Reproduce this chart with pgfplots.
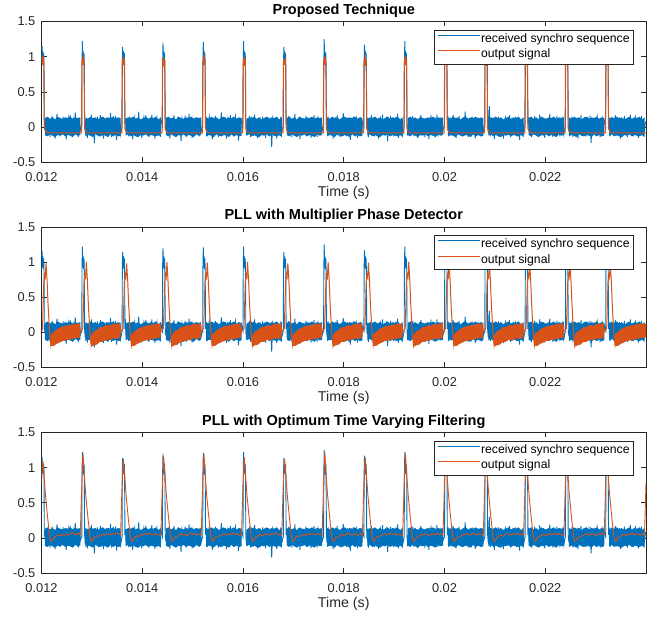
\documentclass[border=0pt]{standalone}
\usepackage{fontspec}
\setmainfont{Liberation Sans}
\usepackage{pgfplots}
\pgfplotsset{compat=1.18}
\usepackage{pgfplotstable}
\usepgfplotslibrary{fillbetween}

\definecolor{mblue}{rgb}{0,0.447,0.741}
\definecolor{morange}{rgb}{0.85,0.325,0.098}
\definecolor{axgray}{rgb}{0.15,0.15,0.15}

% received synchro sequence (x in ms)
\pgfplotstableread[row sep=\\]{
x y\\
12.000 0.90\\ 12.005 1.02\\ 12.012 1.15\\ 12.020 0.92\\ 12.028 1.08\\ 12.036 0.90\\ 12.044 1.05\\ 12.050 0.88\\ 12.056 0.04\\
12.07 0.08\\ 12.09 -0.12\\ 12.11 0.14\\ 12.13 -0.05\\ 12.15 0.11\\ 12.17 -0.14\\ 12.19 0.02\\ 12.21 0.16\\ 12.23 -0.09\\ 12.25 0.12\\ 12.27 -0.16\\ 12.29 0.07\\
12.31 0.19\\ 12.33 -0.08\\ 12.35 0.05\\ 12.37 -0.13\\ 12.39 0.10\\ 12.41 -0.02\\ 12.43 0.15\\ 12.45 -0.11\\ 12.47 0.09\\ 12.49 -0.17\\ 12.51 0.04\\ 12.53 0.13\\
12.55 -0.06\\ 12.57 0.17\\ 12.59 -0.12\\ 12.61 0.03\\ 12.63 0.11\\ 12.65 -0.10\\ 12.67 0.21\\ 12.69 -0.07\\ 12.71 0.06\\ 12.73 -0.14\\ 12.75 0.12\\ 12.77 -0.04\\
12.800 0.02\\ 12.805 0.95\\ 12.812 1.22\\ 12.820 0.92\\ 12.828 1.08\\ 12.836 0.90\\ 12.844 1.05\\ 12.850 0.88\\ 12.856 0.04\\
12.87 -0.09\\ 12.89 0.13\\ 12.91 -0.15\\ 12.93 0.06\\ 12.95 0.10\\ 12.97 -0.11\\ 12.99 0.18\\ 13.01 -0.04\\ 13.03 0.08\\ 13.05 -0.22\\ 13.07 0.12\\ 13.09 -0.07\\
13.11 0.15\\ 13.13 -0.13\\ 13.15 0.03\\ 13.17 0.17\\ 13.19 -0.10\\ 13.21 0.07\\ 13.23 -0.16\\ 13.25 0.11\\ 13.27 -0.02\\ 13.29 0.14\\ 13.31 -0.12\\ 13.33 0.09\\
13.35 -0.08\\ 13.37 0.20\\ 13.39 -0.14\\ 13.41 0.05\\ 13.43 0.12\\ 13.45 -0.09\\ 13.47 0.16\\ 13.49 -0.18\\ 13.51 0.08\\ 13.53 -0.03\\ 13.55 0.13\\ 13.57 -0.10\\
13.600 0.02\\ 13.605 0.95\\ 13.612 1.14\\ 13.620 0.92\\ 13.628 1.08\\ 13.636 0.90\\ 13.644 1.05\\ 13.650 0.88\\ 13.656 0.04\\
13.67 0.12\\ 13.69 -0.07\\ 13.71 0.09\\ 13.73 -0.13\\ 13.75 0.15\\ 13.77 -0.02\\ 13.79 0.11\\ 13.81 -0.17\\ 13.83 0.06\\ 13.85 0.14\\ 13.87 -0.10\\ 13.89 0.08\\
13.91 -0.12\\ 13.93 0.22\\ 13.95 -0.06\\ 13.97 0.10\\ 13.99 -0.15\\ 14.01 0.04\\ 14.03 0.13\\ 14.05 -0.09\\ 14.07 0.17\\ 14.09 -0.11\\ 14.11 0.05\\ 14.13 -0.14\\
14.15 0.12\\ 14.17 -0.05\\ 14.19 0.18\\ 14.21 -0.08\\ 14.23 0.09\\ 14.25 -0.16\\ 14.27 0.07\\ 14.29 0.14\\ 14.31 -0.12\\ 14.33 0.10\\ 14.35 -0.07\\ 14.37 0.11\\
14.400 0.02\\ 14.405 0.95\\ 14.412 1.20\\ 14.420 0.92\\ 14.428 1.08\\ 14.436 0.90\\ 14.444 1.05\\ 14.450 0.88\\ 14.456 0.04\\
14.47 -0.05\\ 14.49 0.14\\ 14.51 -0.12\\ 14.53 0.08\\ 14.55 -0.16\\ 14.57 0.13\\ 14.59 0.03\\ 14.61 -0.09\\ 14.63 0.17\\ 14.65 -0.13\\ 14.67 0.10\\ 14.69 -0.04\\
14.71 0.15\\ 14.73 -0.11\\ 14.75 0.07\\ 14.77 -0.20\\ 14.79 0.12\\ 14.81 0.05\\ 14.83 -0.08\\ 14.85 0.16\\ 14.87 -0.14\\ 14.89 0.09\\ 14.91 -0.03\\ 14.93 0.19\\
14.95 -0.10\\ 14.97 0.06\\ 14.99 -0.15\\ 15.01 0.11\\ 15.03 0.02\\ 15.05 -0.12\\ 15.07 0.14\\ 15.09 -0.07\\ 15.11 0.10\\ 15.13 -0.13\\ 15.15 0.08\\ 15.17 -0.06\\
15.200 0.02\\ 15.205 0.95\\ 15.212 1.21\\ 15.220 0.92\\ 15.228 1.08\\ 15.236 0.90\\ 15.244 1.05\\ 15.250 0.88\\ 15.256 0.04\\
15.27 0.10\\ 15.29 -0.13\\ 15.31 0.07\\ 15.33 0.15\\ 15.35 -0.08\\ 15.37 0.12\\ 15.39 -0.17\\ 15.41 0.05\\ 15.43 -0.10\\ 15.45 0.16\\ 15.47 -0.06\\ 15.49 0.13\\
15.51 -0.14\\ 15.53 0.09\\ 15.55 -0.02\\ 15.57 0.21\\ 15.59 -0.12\\ 15.61 0.08\\ 15.63 -0.09\\ 15.65 0.14\\ 15.67 -0.16\\ 15.69 0.11\\ 15.71 0.04\\ 15.73 -0.11\\
15.75 0.17\\ 15.77 -0.08\\ 15.79 0.12\\ 15.81 -0.13\\ 15.83 0.06\\ 15.85 0.15\\ 15.87 -0.10\\ 15.89 0.09\\ 15.91 -0.19\\ 15.93 0.13\\ 15.95 -0.05\\ 15.97 0.10\\
16.000 0.02\\ 16.005 0.95\\ 16.012 1.22\\ 16.020 0.92\\ 16.028 1.08\\ 16.036 0.90\\ 16.044 1.05\\ 16.050 0.88\\ 16.056 0.04\\
16.07 -0.11\\ 16.09 0.09\\ 16.11 -0.06\\ 16.13 0.16\\ 16.15 -0.14\\ 16.17 0.11\\ 16.19 0.02\\ 16.21 -0.12\\ 16.23 0.18\\ 16.25 -0.07\\ 16.27 0.10\\ 16.29 -0.15\\
16.31 0.13\\ 16.33 -0.03\\ 16.35 0.08\\ 16.37 -0.11\\ 16.39 0.15\\ 16.41 -0.09\\ 16.43 0.06\\ 16.45 -0.15\\ 16.47 0.12\\ 16.49 -0.04\\ 16.51 0.14\\ 16.53 -0.10\\
16.55 0.09\\ 16.57 -0.28\\ 16.59 0.13\\ 16.61 0.07\\ 16.63 -0.08\\ 16.65 0.13\\ 16.67 -0.16\\ 16.69 0.10\\ 16.71 0.04\\ 16.73 -0.12\\ 16.75 0.15\\ 16.77 -0.07\\
16.800 0.02\\ 16.805 0.95\\ 16.812 1.14\\ 16.820 0.92\\ 16.828 1.08\\ 16.836 0.90\\ 16.844 1.05\\ 16.850 0.88\\ 16.856 0.04\\
16.87 0.13\\ 16.89 -0.10\\ 16.91 0.16\\ 16.93 -0.06\\ 16.95 0.08\\ 16.97 -0.14\\ 16.99 0.11\\ 17.01 -0.03\\ 17.03 0.19\\ 17.05 -0.12\\ 17.07 0.07\\ 17.09 -0.09\\
17.11 0.14\\ 17.13 -0.17\\ 17.15 0.10\\ 17.17 0.05\\ 17.19 -0.11\\ 17.21 0.13\\ 17.23 -0.07\\ 17.25 0.16\\ 17.27 -0.13\\ 17.29 0.08\\ 17.31 -0.02\\ 17.33 0.12\\
17.35 -0.15\\ 17.37 0.10\\ 17.39 -0.06\\ 17.41 0.17\\ 17.43 -0.11\\ 17.45 0.09\\ 17.47 -0.14\\ 17.49 0.12\\ 17.51 0.03\\ 17.53 -0.09\\ 17.55 0.11\\ 17.57 -0.05\\
17.600 0.02\\ 17.605 0.95\\ 17.612 1.25\\ 17.620 0.92\\ 17.628 1.08\\ 17.636 0.90\\ 17.644 1.05\\ 17.650 0.88\\ 17.656 0.04\\
17.67 -0.07\\ 17.69 0.15\\ 17.71 -0.11\\ 17.73 0.10\\ 17.75 -0.04\\ 17.77 0.13\\ 17.79 -0.16\\ 17.81 0.08\\ 17.83 0.12\\ 17.85 -0.09\\ 17.87 0.17\\ 17.89 -0.12\\
17.91 0.06\\ 17.93 -0.14\\ 17.95 0.11\\ 17.97 -0.05\\ 17.99 0.20\\ 18.01 -0.10\\ 18.03 0.09\\ 18.05 -0.13\\ 18.07 0.14\\ 18.09 -0.07\\ 18.11 0.05\\ 18.13 -0.18\\
18.15 0.12\\ 18.17 -0.08\\ 18.19 0.15\\ 18.21 -0.11\\ 18.23 0.07\\ 18.25 0.13\\ 18.27 -0.15\\ 18.29 0.10\\ 18.31 -0.06\\ 18.33 0.14\\ 18.35 -0.09\\ 18.37 0.08\\
18.400 0.02\\ 18.405 0.95\\ 18.412 1.17\\ 18.420 0.92\\ 18.428 1.08\\ 18.436 0.90\\ 18.444 1.05\\ 18.450 0.88\\ 18.456 0.04\\
18.47 0.09\\ 18.49 -0.14\\ 18.51 0.12\\ 18.53 -0.07\\ 18.55 0.17\\ 18.57 -0.10\\ 18.59 0.05\\ 18.61 -0.13\\ 18.63 0.14\\ 18.65 -0.04\\ 18.67 0.10\\ 18.69 -0.16\\
18.71 0.08\\ 18.73 0.13\\ 18.75 -0.12\\ 18.77 0.18\\ 18.79 -0.06\\ 18.81 0.11\\ 18.83 -0.09\\ 18.85 0.15\\ 18.87 -0.20\\ 18.89 0.07\\ 18.91 -0.02\\ 18.93 0.16\\
18.95 -0.11\\ 18.97 0.10\\ 18.99 -0.13\\ 19.01 0.06\\ 19.03 0.12\\ 19.05 -0.08\\ 19.07 0.19\\ 19.09 -0.15\\ 19.11 0.09\\ 19.13 -0.05\\ 19.15 0.13\\ 19.17 -0.10\\
19.200 0.02\\ 19.205 0.95\\ 19.212 1.22\\ 19.220 0.92\\ 19.228 1.08\\ 19.236 0.90\\ 19.244 1.05\\ 19.250 0.88\\ 19.256 0.04\\
19.27 -0.12\\ 19.29 0.11\\ 19.31 -0.05\\ 19.33 0.14\\ 19.35 -0.09\\ 19.37 0.16\\ 19.39 -0.13\\ 19.41 0.07\\ 19.43 -0.02\\ 19.45 0.12\\ 19.47 -0.15\\ 19.49 0.10\\
19.51 -0.07\\ 19.53 0.17\\ 19.55 -0.11\\ 19.57 0.08\\ 19.59 0.03\\ 19.61 -0.14\\ 19.63 0.13\\ 19.65 -0.06\\ 19.67 0.11\\ 19.69 -0.17\\ 19.71 0.09\\ 19.73 0.15\\
19.75 -0.10\\ 19.77 0.06\\ 19.79 -0.12\\ 19.81 0.14\\ 19.83 -0.08\\ 19.85 0.18\\ 19.87 -0.13\\ 19.89 0.05\\ 19.91 0.11\\ 19.93 -0.09\\ 19.95 0.12\\ 19.97 -0.04\\
20.000 0.02\\ 20.005 0.95\\ 20.012 1.15\\ 20.020 0.92\\ 20.028 1.08\\ 20.036 0.90\\ 20.044 1.05\\ 20.050 0.88\\ 20.056 0.04\\
20.07 0.11\\ 20.09 -0.08\\ 20.11 0.14\\ 20.13 -0.12\\ 20.15 0.06\\ 20.17 0.17\\ 20.19 -0.10\\ 20.21 0.09\\ 20.23 -0.15\\ 20.25 0.12\\ 20.27 -0.04\\ 20.29 0.16\\
20.31 -0.11\\ 20.33 0.07\\ 20.35 -0.13\\ 20.37 0.10\\ 20.39 -0.06\\ 20.41 0.22\\ 20.43 -0.09\\ 20.45 0.13\\ 20.47 -0.14\\ 20.49 0.08\\ 20.51 0.02\\ 20.53 -0.12\\
20.55 0.15\\ 20.57 -0.07\\ 20.59 0.11\\ 20.61 -0.16\\ 20.63 0.09\\ 20.65 -0.05\\ 20.67 0.14\\ 20.69 -0.11\\ 20.71 0.07\\ 20.73 -0.13\\ 20.75 0.10\\ 20.77 -0.06\\
20.800 0.02\\ 20.805 0.95\\ 20.812 1.20\\ 20.820 0.92\\ 20.828 1.08\\ 20.836 0.90\\ 20.844 1.05\\ 20.850 0.88\\ 20.856 0.04\\
20.87 -0.08\\ 20.89 0.30\\ 20.91 -0.13\\ 20.93 0.09\\ 20.95 -0.05\\ 20.97 0.12\\ 20.99 -0.17\\ 21.01 0.11\\ 21.03 0.04\\ 21.05 -0.10\\ 21.07 0.15\\ 21.09 -0.08\\
21.11 0.13\\ 21.13 -0.12\\ 21.15 0.06\\ 21.17 -0.16\\ 21.19 0.10\\ 21.21 0.14\\ 21.23 -0.07\\ 21.25 0.09\\ 21.27 -0.11\\ 21.29 0.17\\ 21.31 -0.14\\ 21.33 0.08\\
21.35 -0.03\\ 21.37 0.12\\ 21.39 -0.09\\ 21.41 0.15\\ 21.43 -0.13\\ 21.45 0.06\\ 21.47 0.11\\ 21.49 -0.18\\ 21.51 0.10\\ 21.53 -0.06\\ 21.55 0.13\\ 21.57 -0.09\\
21.600 0.02\\ 21.605 0.95\\ 21.612 1.18\\ 21.620 0.92\\ 21.628 1.08\\ 21.636 0.90\\ 21.644 1.05\\ 21.650 0.88\\ 21.656 0.04\\
21.67 0.14\\ 21.69 -0.11\\ 21.71 0.08\\ 21.73 -0.14\\ 21.75 0.12\\ 21.77 -0.06\\ 21.79 0.16\\ 21.81 -0.09\\ 21.83 0.10\\ 21.85 -0.13\\ 21.87 0.05\\ 21.89 0.18\\
21.91 -0.12\\ 21.93 0.07\\ 21.95 -0.10\\ 21.97 0.14\\ 21.99 -0.15\\ 22.01 0.11\\ 22.03 -0.04\\ 22.05 0.13\\ 22.07 -0.08\\ 22.09 0.19\\ 22.11 -0.11\\ 22.13 0.06\\
22.15 -0.14\\ 22.17 0.10\\ 22.19 0.03\\ 22.21 -0.12\\ 22.23 0.16\\ 22.25 -0.07\\ 22.27 0.09\\ 22.29 -0.13\\ 22.31 0.12\\ 22.33 -0.05\\ 22.35 0.15\\ 22.37 -0.10\\
22.400 0.02\\ 22.405 0.95\\ 22.412 1.16\\ 22.420 0.92\\ 22.428 1.08\\ 22.436 0.90\\ 22.444 1.05\\ 22.450 0.88\\ 22.456 0.04\\
22.47 -0.06\\ 22.49 0.12\\ 22.51 -0.10\\ 22.53 0.15\\ 22.55 -0.14\\ 22.57 0.08\\ 22.59 0.11\\ 22.61 -0.07\\ 22.63 0.13\\ 22.65 -0.16\\ 22.67 0.09\\ 22.69 -0.03\\
22.71 0.17\\ 22.73 -0.11\\ 22.75 0.10\\ 22.77 -0.08\\ 22.79 0.14\\ 22.81 -0.13\\ 22.83 0.06\\ 22.85 0.12\\ 22.87 -0.10\\ 22.89 0.16\\ 22.91 -0.22\\ 22.93 0.09\\
22.95 -0.05\\ 22.97 0.13\\ 22.99 -0.12\\ 23.01 0.08\\ 23.03 0.15\\ 23.05 -0.09\\ 23.07 0.11\\ 23.09 -0.14\\ 23.11 0.07\\ 23.13 0.13\\ 23.15 -0.06\\ 23.17 0.10\\
23.200 0.02\\ 23.205 0.95\\ 23.212 1.20\\ 23.220 0.92\\ 23.228 1.08\\ 23.236 0.90\\ 23.244 1.05\\ 23.250 0.88\\ 23.256 0.04\\
23.27 0.10\\ 23.29 -0.13\\ 23.31 0.15\\ 23.33 -0.08\\ 23.35 0.12\\ 23.37 -0.05\\ 23.39 0.17\\ 23.41 -0.12\\ 23.43 0.07\\ 23.45 -0.10\\ 23.47 0.14\\ 23.49 -0.16\\
23.51 0.09\\ 23.53 0.04\\ 23.55 -0.11\\ 23.57 0.16\\ 23.59 -0.07\\ 23.61 0.12\\ 23.63 -0.14\\ 23.65 0.10\\ 23.67 -0.06\\ 23.69 0.18\\ 23.71 -0.09\\ 23.73 0.11\\
23.75 -0.13\\ 23.77 0.08\\ 23.79 0.14\\ 23.81 -0.10\\ 23.83 0.06\\ 23.85 -0.15\\ 23.87 0.12\\ 23.89 -0.07\\ 23.91 0.16\\ 23.93 -0.11\\ 23.95 0.09\\ 23.97 -0.04\\
23.99 0.08\\
}\bluedata

% dense core of the received noise (upper and lower envelope)
\pgfplotstableread[row sep=\\]{
x up lo\\
12.065 0 0\\ 12.07 0.13 -0.11\\ 12.12 0.15 -0.13\\ 12.17 0.12 -0.10\\ 12.22 0.14 -0.12\\ 12.27 0.11 -0.14\\ 12.32 0.15 -0.11\\ 12.37 0.13 -0.12\\ 12.42 0.12 -0.10\\ 12.47 0.14 -0.13\\ 12.52 0.13 -0.11\\ 12.57 0.15 -0.12\\ 12.62 0.12 -0.14\\ 12.67 0.14 -0.10\\ 12.72 0.13 -0.12\\ 12.77 0.14 -0.11\\ 12.775 0 0\\
12.865 0 0\\ 12.87 0.14 -0.13\\ 12.92 0.12 -0.11\\ 12.97 0.15 -0.12\\ 13.02 0.13 -0.14\\ 13.07 0.14 -0.10\\ 13.12 0.11 -0.12\\ 13.17 0.14 -0.13\\ 13.22 0.15 -0.11\\ 13.27 0.12 -0.12\\ 13.32 0.14 -0.14\\ 13.37 0.13 -0.10\\ 13.42 0.15 -0.13\\ 13.47 0.12 -0.11\\ 13.52 0.14 -0.13\\ 13.57 0.13 -0.12\\ 13.575 0 0\\
13.665 0 0\\ 13.67 0.12 -0.12\\ 13.72 0.14 -0.10\\ 13.77 0.13 -0.13\\ 13.82 0.15 -0.11\\ 13.87 0.12 -0.13\\ 13.92 0.14 -0.14\\ 13.97 0.11 -0.11\\ 14.02 0.13 -0.12\\ 14.07 0.15 -0.10\\ 14.12 0.12 -0.13\\ 14.17 0.14 -0.11\\ 14.22 0.13 -0.12\\ 14.27 0.15 -0.13\\ 14.32 0.11 -0.11\\ 14.37 0.14 -0.14\\ 14.375 0 0\\
14.465 0 0\\ 14.47 0.13 -0.11\\ 14.52 0.15 -0.13\\ 14.57 0.12 -0.10\\ 14.62 0.14 -0.12\\ 14.67 0.11 -0.14\\ 14.72 0.15 -0.11\\ 14.77 0.13 -0.12\\ 14.82 0.12 -0.10\\ 14.87 0.14 -0.13\\ 14.92 0.13 -0.11\\ 14.97 0.15 -0.12\\ 15.02 0.12 -0.14\\ 15.07 0.14 -0.10\\ 15.12 0.13 -0.12\\ 15.17 0.14 -0.11\\ 15.175 0 0\\
15.265 0 0\\ 15.27 0.14 -0.13\\ 15.32 0.12 -0.11\\ 15.37 0.15 -0.12\\ 15.42 0.13 -0.14\\ 15.47 0.14 -0.10\\ 15.52 0.11 -0.12\\ 15.57 0.14 -0.13\\ 15.62 0.15 -0.11\\ 15.67 0.12 -0.12\\ 15.72 0.14 -0.14\\ 15.77 0.13 -0.10\\ 15.82 0.15 -0.13\\ 15.87 0.12 -0.11\\ 15.92 0.14 -0.13\\ 15.97 0.13 -0.12\\ 15.975 0 0\\
16.065 0 0\\ 16.07 0.12 -0.12\\ 16.12 0.14 -0.10\\ 16.17 0.13 -0.13\\ 16.22 0.15 -0.11\\ 16.27 0.12 -0.13\\ 16.32 0.14 -0.14\\ 16.37 0.11 -0.11\\ 16.42 0.13 -0.12\\ 16.47 0.15 -0.10\\ 16.52 0.12 -0.13\\ 16.57 0.14 -0.11\\ 16.62 0.13 -0.12\\ 16.67 0.15 -0.13\\ 16.72 0.11 -0.11\\ 16.77 0.14 -0.14\\ 16.775 0 0\\
16.865 0 0\\ 16.87 0.13 -0.11\\ 16.92 0.15 -0.13\\ 16.97 0.12 -0.10\\ 17.02 0.14 -0.12\\ 17.07 0.11 -0.14\\ 17.12 0.15 -0.11\\ 17.17 0.13 -0.12\\ 17.22 0.12 -0.10\\ 17.27 0.14 -0.13\\ 17.32 0.13 -0.11\\ 17.37 0.15 -0.12\\ 17.42 0.12 -0.14\\ 17.47 0.14 -0.10\\ 17.52 0.13 -0.12\\ 17.57 0.14 -0.11\\ 17.575 0 0\\
17.665 0 0\\ 17.67 0.14 -0.13\\ 17.72 0.12 -0.11\\ 17.77 0.15 -0.12\\ 17.82 0.13 -0.14\\ 17.87 0.14 -0.10\\ 17.92 0.11 -0.12\\ 17.97 0.14 -0.13\\ 18.02 0.15 -0.11\\ 18.07 0.12 -0.12\\ 18.12 0.14 -0.14\\ 18.17 0.13 -0.10\\ 18.22 0.15 -0.13\\ 18.27 0.12 -0.11\\ 18.32 0.14 -0.13\\ 18.37 0.13 -0.12\\ 18.375 0 0\\
18.465 0 0\\ 18.47 0.12 -0.12\\ 18.52 0.14 -0.10\\ 18.57 0.13 -0.13\\ 18.62 0.15 -0.11\\ 18.67 0.12 -0.13\\ 18.72 0.14 -0.14\\ 18.77 0.11 -0.11\\ 18.82 0.13 -0.12\\ 18.87 0.15 -0.10\\ 18.92 0.12 -0.13\\ 18.97 0.14 -0.11\\ 19.02 0.13 -0.12\\ 19.07 0.15 -0.13\\ 19.12 0.11 -0.11\\ 19.17 0.14 -0.14\\ 19.175 0 0\\
19.265 0 0\\ 19.27 0.13 -0.11\\ 19.32 0.15 -0.13\\ 19.37 0.12 -0.10\\ 19.42 0.14 -0.12\\ 19.47 0.11 -0.14\\ 19.52 0.15 -0.11\\ 19.57 0.13 -0.12\\ 19.62 0.12 -0.10\\ 19.67 0.14 -0.13\\ 19.72 0.13 -0.11\\ 19.77 0.15 -0.12\\ 19.82 0.12 -0.14\\ 19.87 0.14 -0.10\\ 19.92 0.13 -0.12\\ 19.97 0.14 -0.11\\ 19.975 0 0\\
20.065 0 0\\ 20.07 0.14 -0.13\\ 20.12 0.12 -0.11\\ 20.17 0.15 -0.12\\ 20.22 0.13 -0.14\\ 20.27 0.14 -0.10\\ 20.32 0.11 -0.12\\ 20.37 0.14 -0.13\\ 20.42 0.15 -0.11\\ 20.47 0.12 -0.12\\ 20.52 0.14 -0.14\\ 20.57 0.13 -0.10\\ 20.62 0.15 -0.13\\ 20.67 0.12 -0.11\\ 20.72 0.14 -0.13\\ 20.77 0.13 -0.12\\ 20.775 0 0\\
20.865 0 0\\ 20.87 0.12 -0.12\\ 20.92 0.14 -0.10\\ 20.97 0.13 -0.13\\ 21.02 0.15 -0.11\\ 21.07 0.12 -0.13\\ 21.12 0.14 -0.14\\ 21.17 0.11 -0.11\\ 21.22 0.13 -0.12\\ 21.27 0.15 -0.10\\ 21.32 0.12 -0.13\\ 21.37 0.14 -0.11\\ 21.42 0.13 -0.12\\ 21.47 0.15 -0.13\\ 21.52 0.11 -0.11\\ 21.57 0.14 -0.14\\ 21.575 0 0\\
21.665 0 0\\ 21.67 0.13 -0.11\\ 21.72 0.15 -0.13\\ 21.77 0.12 -0.10\\ 21.82 0.14 -0.12\\ 21.87 0.11 -0.14\\ 21.92 0.15 -0.11\\ 21.97 0.13 -0.12\\ 22.02 0.12 -0.10\\ 22.07 0.14 -0.13\\ 22.12 0.13 -0.11\\ 22.17 0.15 -0.12\\ 22.22 0.12 -0.14\\ 22.27 0.14 -0.10\\ 22.32 0.13 -0.12\\ 22.37 0.14 -0.11\\ 22.375 0 0\\
22.465 0 0\\ 22.47 0.14 -0.13\\ 22.52 0.12 -0.11\\ 22.57 0.15 -0.12\\ 22.62 0.13 -0.14\\ 22.67 0.14 -0.10\\ 22.72 0.11 -0.12\\ 22.77 0.14 -0.13\\ 22.82 0.15 -0.11\\ 22.87 0.12 -0.12\\ 22.92 0.14 -0.14\\ 22.97 0.13 -0.10\\ 23.02 0.15 -0.13\\ 23.07 0.12 -0.11\\ 23.12 0.14 -0.13\\ 23.17 0.13 -0.12\\ 23.175 0 0\\
23.265 0 0\\ 23.27 0.12 -0.12\\ 23.32 0.14 -0.10\\ 23.37 0.13 -0.13\\ 23.42 0.15 -0.11\\ 23.47 0.12 -0.13\\ 23.52 0.14 -0.14\\ 23.57 0.11 -0.11\\ 23.62 0.13 -0.12\\ 23.67 0.15 -0.10\\ 23.72 0.12 -0.13\\ 23.77 0.14 -0.11\\ 23.82 0.13 -0.12\\ 23.87 0.15 -0.13\\ 23.92 0.11 -0.11\\ 23.97 0.14 -0.14\\ 23.975 0 0\\
}\bluecore

% output of the proposed technique
\pgfplotstableread[row sep=\\]{
x y\\
12.000 0.92\\ 12.012 0.98\\ 12.022 0.88\\ 12.032 1.00\\ 12.045 0.93\\ 12.056 -0.02\\ 12.080 -0.06\\ 12.120 -0.08\\
12.794 -0.08\\ 12.802 0.92\\ 12.812 0.98\\ 12.822 0.88\\ 12.832 0.99\\ 12.845 0.93\\ 12.856 -0.02\\ 12.880 -0.06\\ 12.920 -0.08\\
13.594 -0.08\\ 13.602 0.90\\ 13.612 0.97\\ 13.622 0.88\\ 13.632 1.00\\ 13.645 0.92\\ 13.656 -0.02\\ 13.680 -0.06\\ 13.720 -0.08\\
14.394 -0.08\\ 14.402 0.92\\ 14.412 0.98\\ 14.422 0.86\\ 14.432 0.97\\ 14.445 0.93\\ 14.456 -0.02\\ 14.480 -0.06\\ 14.520 -0.08\\
15.194 -0.08\\ 15.202 0.91\\ 15.212 0.99\\ 15.222 0.88\\ 15.232 1.00\\ 15.245 0.94\\ 15.256 -0.02\\ 15.280 -0.06\\ 15.320 -0.08\\
15.994 -0.08\\ 16.002 0.92\\ 16.012 0.98\\ 16.022 0.87\\ 16.032 1.00\\ 16.045 0.93\\ 16.056 -0.02\\ 16.080 -0.06\\ 16.120 -0.08\\
16.794 -0.08\\ 16.802 0.90\\ 16.812 0.97\\ 16.822 0.88\\ 16.832 0.99\\ 16.845 0.92\\ 16.856 -0.02\\ 16.880 -0.06\\ 16.920 -0.08\\
17.594 -0.08\\ 17.602 0.92\\ 17.612 0.99\\ 17.622 0.88\\ 17.632 1.00\\ 17.645 0.93\\ 17.656 -0.02\\ 17.680 -0.06\\ 17.720 -0.08\\
18.394 -0.08\\ 18.402 0.91\\ 18.412 0.98\\ 18.422 0.87\\ 18.432 0.99\\ 18.445 0.93\\ 18.456 -0.02\\ 18.480 -0.06\\ 18.520 -0.08\\
19.194 -0.08\\ 19.202 0.92\\ 19.212 0.97\\ 19.222 0.88\\ 19.232 1.00\\ 19.245 0.92\\ 19.256 -0.02\\ 19.280 -0.06\\ 19.320 -0.08\\
19.994 -0.08\\ 20.002 0.92\\ 20.012 0.98\\ 20.022 0.88\\ 20.032 0.99\\ 20.045 0.93\\ 20.056 -0.02\\ 20.080 -0.06\\ 20.120 -0.08\\
20.794 -0.08\\ 20.802 0.91\\ 20.812 0.98\\ 20.822 0.87\\ 20.832 1.00\\ 20.845 0.93\\ 20.856 -0.02\\ 20.880 -0.06\\ 20.920 -0.08\\
21.594 -0.08\\ 21.602 0.92\\ 21.612 0.99\\ 21.622 0.88\\ 21.632 1.00\\ 21.645 0.92\\ 21.656 -0.02\\ 21.680 -0.06\\ 21.720 -0.08\\
22.394 -0.08\\ 22.402 0.90\\ 22.412 0.97\\ 22.422 0.88\\ 22.432 0.99\\ 22.445 0.93\\ 22.456 -0.02\\ 22.480 -0.06\\ 22.520 -0.08\\
23.194 -0.08\\ 23.202 0.92\\ 23.212 0.98\\ 23.222 0.88\\ 23.232 1.00\\ 23.245 0.93\\ 23.256 -0.02\\ 23.280 -0.06\\ 23.320 -0.08\\
24.000 -0.08\\
}\orangeA

% PLL with multiplier phase detector: pulse line
\pgfplotstableread[row sep=\\]{
x y\\
12.000 0.00\\ 12.020 0.05\\ 12.045 0.70\\ 12.060 0.82\\ 12.075 0.78\\ 12.090 0.98\\ 12.110 0.75\\ 12.130 0.40\\ 12.160 0.00\\ 12.185 -0.19\\ 12.200 -0.12\\
12.790 0.02\\ 12.820 0.05\\ 12.845 0.70\\ 12.860 0.82\\ 12.875 0.78\\ 12.890 1.00\\ 12.910 0.75\\ 12.930 0.40\\ 12.960 0.00\\ 12.985 -0.19\\ 13.000 -0.12\\
13.590 0.02\\ 13.620 0.05\\ 13.645 0.70\\ 13.660 0.82\\ 13.675 0.78\\ 13.690 0.98\\ 13.710 0.75\\ 13.730 0.40\\ 13.760 0.00\\ 13.785 -0.19\\ 13.800 -0.12\\
14.390 0.02\\ 14.420 0.05\\ 14.445 0.70\\ 14.460 0.82\\ 14.475 0.78\\ 14.490 1.00\\ 14.510 0.75\\ 14.530 0.40\\ 14.560 0.00\\ 14.585 -0.19\\ 14.600 -0.12\\
15.190 0.02\\ 15.220 0.05\\ 15.245 0.70\\ 15.260 0.82\\ 15.275 0.78\\ 15.290 0.99\\ 15.310 0.75\\ 15.330 0.40\\ 15.360 0.00\\ 15.385 -0.19\\ 15.400 -0.12\\
15.990 0.02\\ 16.020 0.05\\ 16.045 0.70\\ 16.060 0.82\\ 16.075 0.78\\ 16.090 1.00\\ 16.110 0.75\\ 16.130 0.40\\ 16.160 0.00\\ 16.185 -0.19\\ 16.200 -0.12\\
16.790 0.02\\ 16.820 0.05\\ 16.845 0.70\\ 16.860 0.82\\ 16.875 0.78\\ 16.890 0.98\\ 16.910 0.75\\ 16.930 0.40\\ 16.960 0.00\\ 16.985 -0.19\\ 17.000 -0.12\\
17.590 0.02\\ 17.620 0.05\\ 17.645 0.70\\ 17.660 0.82\\ 17.675 0.78\\ 17.690 1.00\\ 17.710 0.75\\ 17.730 0.40\\ 17.760 0.00\\ 17.785 -0.19\\ 17.800 -0.12\\
18.390 0.02\\ 18.420 0.05\\ 18.445 0.70\\ 18.460 0.82\\ 18.475 0.78\\ 18.490 0.99\\ 18.510 0.75\\ 18.530 0.40\\ 18.560 0.00\\ 18.585 -0.19\\ 18.600 -0.12\\
19.190 0.02\\ 19.220 0.05\\ 19.245 0.70\\ 19.260 0.82\\ 19.275 0.78\\ 19.290 1.00\\ 19.310 0.75\\ 19.330 0.40\\ 19.360 0.00\\ 19.385 -0.19\\ 19.400 -0.12\\
19.990 0.02\\ 20.020 0.05\\ 20.045 0.70\\ 20.060 0.82\\ 20.075 0.78\\ 20.090 0.98\\ 20.110 0.75\\ 20.130 0.40\\ 20.160 0.00\\ 20.185 -0.19\\ 20.200 -0.12\\
20.790 0.02\\ 20.820 0.05\\ 20.845 0.70\\ 20.860 0.82\\ 20.875 0.78\\ 20.890 1.00\\ 20.910 0.75\\ 20.930 0.40\\ 20.960 0.00\\ 20.985 -0.19\\ 21.000 -0.12\\
21.590 0.02\\ 21.620 0.05\\ 21.645 0.70\\ 21.660 0.82\\ 21.675 0.78\\ 21.690 0.99\\ 21.710 0.75\\ 21.730 0.40\\ 21.760 0.00\\ 21.785 -0.19\\ 21.800 -0.12\\
22.390 0.02\\ 22.420 0.05\\ 22.445 0.70\\ 22.460 0.82\\ 22.475 0.78\\ 22.490 1.00\\ 22.510 0.75\\ 22.530 0.40\\ 22.560 0.00\\ 22.585 -0.19\\ 22.600 -0.12\\
23.190 0.02\\ 23.220 0.05\\ 23.245 0.70\\ 23.260 0.82\\ 23.275 0.78\\ 23.290 0.98\\ 23.310 0.75\\ 23.330 0.40\\ 23.360 0.00\\ 23.385 -0.19\\ 23.400 -0.12\\
24.000 0.02\\
}\orangeB

% PLL with multiplier phase detector: envelope of the oscillating band
\pgfplotstableread[row sep=\\]{
x up lo\\
12.17 -0.10 -0.10\\ 12.19 -0.03 -0.20\\ 12.24 0.00 -0.20\\ 12.30 0.04 -0.17\\ 12.36 0.06 -0.15\\ 12.42 0.08 -0.13\\ 12.48 0.09 -0.12\\ 12.55 0.10 -0.11\\ 12.62 0.11 -0.10\\ 12.69 0.12 -0.09\\ 12.76 0.12 -0.08\\ 12.78 0.02 0.02\\
12.97 -0.10 -0.10\\ 12.99 -0.04 -0.21\\ 13.04 0.01 -0.19\\ 13.10 0.03 -0.18\\ 13.16 0.07 -0.14\\ 13.22 0.07 -0.14\\ 13.28 0.10 -0.11\\ 13.35 0.09 -0.12\\ 13.42 0.12 -0.09\\ 13.49 0.11 -0.10\\ 13.56 0.13 -0.08\\ 13.58 0.02 0.02\\
13.77 -0.10 -0.10\\ 13.79 -0.03 -0.20\\ 13.84 0.00 -0.20\\ 13.90 0.04 -0.17\\ 13.96 0.06 -0.15\\ 14.02 0.08 -0.13\\ 14.08 0.09 -0.12\\ 14.15 0.10 -0.11\\ 14.22 0.11 -0.10\\ 14.29 0.12 -0.09\\ 14.36 0.12 -0.08\\ 14.38 0.02 0.02\\
14.57 -0.10 -0.10\\ 14.59 -0.04 -0.21\\ 14.64 0.01 -0.19\\ 14.70 0.03 -0.18\\ 14.76 0.07 -0.14\\ 14.82 0.07 -0.14\\ 14.88 0.10 -0.11\\ 14.95 0.09 -0.12\\ 15.02 0.12 -0.09\\ 15.09 0.11 -0.10\\ 15.16 0.13 -0.08\\ 15.18 0.02 0.02\\
15.37 -0.10 -0.10\\ 15.39 -0.03 -0.20\\ 15.44 0.00 -0.20\\ 15.50 0.04 -0.17\\ 15.56 0.06 -0.15\\ 15.62 0.08 -0.13\\ 15.68 0.09 -0.12\\ 15.75 0.10 -0.11\\ 15.82 0.11 -0.10\\ 15.89 0.12 -0.09\\ 15.96 0.12 -0.08\\ 15.98 0.02 0.02\\
16.17 -0.10 -0.10\\ 16.19 -0.04 -0.21\\ 16.24 0.01 -0.19\\ 16.30 0.03 -0.18\\ 16.36 0.07 -0.14\\ 16.42 0.07 -0.14\\ 16.48 0.10 -0.11\\ 16.55 0.09 -0.12\\ 16.62 0.12 -0.09\\ 16.69 0.11 -0.10\\ 16.76 0.13 -0.08\\ 16.78 0.02 0.02\\
16.97 -0.10 -0.10\\ 16.99 -0.03 -0.20\\ 17.04 0.00 -0.20\\ 17.10 0.04 -0.17\\ 17.16 0.06 -0.15\\ 17.22 0.08 -0.13\\ 17.28 0.09 -0.12\\ 17.35 0.10 -0.11\\ 17.42 0.11 -0.10\\ 17.49 0.12 -0.09\\ 17.56 0.12 -0.08\\ 17.58 0.02 0.02\\
17.77 -0.10 -0.10\\ 17.79 -0.04 -0.21\\ 17.84 0.01 -0.19\\ 17.90 0.03 -0.18\\ 17.96 0.07 -0.14\\ 18.02 0.07 -0.14\\ 18.08 0.10 -0.11\\ 18.15 0.09 -0.12\\ 18.22 0.12 -0.09\\ 18.29 0.11 -0.10\\ 18.36 0.13 -0.08\\ 18.38 0.02 0.02\\
18.57 -0.10 -0.10\\ 18.59 -0.03 -0.20\\ 18.64 0.00 -0.20\\ 18.70 0.04 -0.17\\ 18.76 0.06 -0.15\\ 18.82 0.08 -0.13\\ 18.88 0.09 -0.12\\ 18.95 0.10 -0.11\\ 19.02 0.11 -0.10\\ 19.09 0.12 -0.09\\ 19.16 0.12 -0.08\\ 19.18 0.02 0.02\\
19.37 -0.10 -0.10\\ 19.39 -0.04 -0.21\\ 19.44 0.01 -0.19\\ 19.50 0.03 -0.18\\ 19.56 0.07 -0.14\\ 19.62 0.07 -0.14\\ 19.68 0.10 -0.11\\ 19.75 0.09 -0.12\\ 19.82 0.12 -0.09\\ 19.89 0.11 -0.10\\ 19.96 0.13 -0.08\\ 19.98 0.02 0.02\\
20.17 -0.10 -0.10\\ 20.19 -0.03 -0.20\\ 20.24 0.00 -0.20\\ 20.30 0.04 -0.17\\ 20.36 0.06 -0.15\\ 20.42 0.08 -0.13\\ 20.48 0.09 -0.12\\ 20.55 0.10 -0.11\\ 20.62 0.11 -0.10\\ 20.69 0.12 -0.09\\ 20.76 0.12 -0.08\\ 20.78 0.02 0.02\\
20.97 -0.10 -0.10\\ 20.99 -0.04 -0.21\\ 21.04 0.01 -0.19\\ 21.10 0.03 -0.18\\ 21.16 0.07 -0.14\\ 21.22 0.07 -0.14\\ 21.28 0.10 -0.11\\ 21.35 0.09 -0.12\\ 21.42 0.12 -0.09\\ 21.49 0.11 -0.10\\ 21.56 0.13 -0.08\\ 21.58 0.02 0.02\\
21.77 -0.10 -0.10\\ 21.79 -0.03 -0.20\\ 21.84 0.00 -0.20\\ 21.90 0.04 -0.17\\ 21.96 0.06 -0.15\\ 22.02 0.08 -0.13\\ 22.08 0.09 -0.12\\ 22.15 0.10 -0.11\\ 22.22 0.11 -0.10\\ 22.29 0.12 -0.09\\ 22.36 0.12 -0.08\\ 22.38 0.02 0.02\\
22.57 -0.10 -0.10\\ 22.59 -0.04 -0.21\\ 22.64 0.01 -0.19\\ 22.70 0.03 -0.18\\ 22.76 0.07 -0.14\\ 22.82 0.07 -0.14\\ 22.88 0.10 -0.11\\ 22.95 0.09 -0.12\\ 23.02 0.12 -0.09\\ 23.09 0.11 -0.10\\ 23.16 0.13 -0.08\\ 23.18 0.02 0.02\\
23.37 -0.10 -0.10\\ 23.39 -0.03 -0.20\\ 23.44 0.00 -0.20\\ 23.50 0.04 -0.17\\ 23.56 0.06 -0.15\\ 23.62 0.08 -0.13\\ 23.68 0.09 -0.12\\ 23.75 0.10 -0.11\\ 23.82 0.11 -0.10\\ 23.89 0.12 -0.09\\ 23.96 0.12 -0.08\\ 24.00 0.12 -0.08\\
}\bandB

% PLL with optimum time varying filtering
\pgfplotstableread[row sep=\\]{
x y\\
12.000 0.78\\ 12.025 1.10\\ 12.045 0.95\\ 12.080 0.60\\ 12.120 0.30\\ 12.160 0.03\\ 12.185 -0.05\\ 12.210 -0.04\\ 12.250 0.01\\
12.29 0.02\\ 12.33 0.04\\ 12.37 0.03\\ 12.41 0.05\\ 12.45 0.03\\ 12.49 0.05\\ 12.53 0.04\\ 12.57 0.06\\ 12.61 0.08\\ 12.65 0.05\\ 12.69 0.04\\ 12.73 0.07\\ 12.77 0.04\\
12.800 0.78\\ 12.825 1.20\\ 12.845 0.95\\ 12.880 0.60\\ 12.920 0.30\\ 12.960 0.03\\ 12.985 -0.05\\ 13.010 -0.04\\ 13.050 0.01\\
13.09 0.01\\ 13.13 0.03\\ 13.17 0.03\\ 13.21 0.05\\ 13.25 0.04\\ 13.29 0.06\\ 13.33 0.05\\ 13.37 0.04\\ 13.41 0.06\\ 13.45 0.05\\ 13.49 0.07\\ 13.53 0.06\\ 13.57 0.04\\
13.600 0.78\\ 13.625 1.12\\ 13.645 0.95\\ 13.680 0.60\\ 13.720 0.30\\ 13.760 0.03\\ 13.785 -0.05\\ 13.810 -0.04\\ 13.850 0.01\\
13.89 0.03\\ 13.93 0.02\\ 13.97 0.05\\ 14.01 0.04\\ 14.05 0.06\\ 14.09 0.05\\ 14.13 0.07\\ 14.17 0.05\\ 14.21 0.04\\ 14.25 0.06\\ 14.29 0.05\\ 14.33 0.04\\ 14.37 0.04\\
14.400 0.78\\ 14.425 1.16\\ 14.445 0.95\\ 14.480 0.60\\ 14.520 0.30\\ 14.560 0.03\\ 14.585 -0.05\\ 14.610 -0.04\\ 14.650 0.01\\
14.69 0.02\\ 14.73 0.04\\ 14.77 0.06\\ 14.81 0.04\\ 14.85 0.05\\ 14.89 0.03\\ 14.93 0.05\\ 14.97 0.07\\ 15.01 0.05\\ 15.05 0.06\\ 15.09 0.04\\ 15.13 0.05\\ 15.17 0.04\\
15.200 0.78\\ 15.225 1.20\\ 15.245 0.95\\ 15.280 0.60\\ 15.320 0.30\\ 15.360 0.03\\ 15.385 -0.05\\ 15.410 -0.04\\ 15.450 0.01\\
15.49 0.01\\ 15.53 0.03\\ 15.57 0.04\\ 15.61 0.06\\ 15.65 0.05\\ 15.69 0.04\\ 15.73 0.06\\ 15.77 0.05\\ 15.81 0.07\\ 15.85 0.05\\ 15.89 0.06\\ 15.93 0.03\\ 15.97 0.04\\
16.000 0.78\\ 16.025 1.15\\ 16.045 0.95\\ 16.080 0.60\\ 16.120 0.30\\ 16.160 0.03\\ 16.185 -0.05\\ 16.210 -0.04\\ 16.250 0.01\\
16.29 0.02\\ 16.33 0.05\\ 16.37 0.03\\ 16.41 0.04\\ 16.45 0.06\\ 16.49 0.05\\ 16.53 0.04\\ 16.57 0.06\\ 16.61 0.05\\ 16.65 0.07\\ 16.69 0.05\\ 16.73 0.04\\ 16.77 0.04\\
16.800 0.78\\ 16.825 1.12\\ 16.845 0.95\\ 16.880 0.60\\ 16.920 0.30\\ 16.960 0.03\\ 16.985 -0.05\\ 17.010 -0.04\\ 17.050 0.01\\
17.09 0.03\\ 17.13 0.02\\ 17.17 0.04\\ 17.21 0.05\\ 17.25 0.03\\ 17.29 0.06\\ 17.33 0.05\\ 17.37 0.07\\ 17.41 0.04\\ 17.45 0.05\\ 17.49 0.06\\ 17.53 0.05\\ 17.57 0.04\\
17.600 0.78\\ 17.625 1.22\\ 17.645 0.95\\ 17.680 0.60\\ 17.720 0.30\\ 17.760 0.03\\ 17.785 -0.05\\ 17.810 -0.04\\ 17.850 0.01\\
17.89 0.01\\ 17.93 0.04\\ 17.97 0.05\\ 18.01 0.03\\ 18.05 0.05\\ 18.09 0.07\\ 18.13 0.05\\ 18.17 0.04\\ 18.21 0.06\\ 18.25 0.05\\ 18.29 0.03\\ 18.33 0.06\\ 18.37 0.04\\
18.400 0.78\\ 18.425 1.15\\ 18.445 0.95\\ 18.480 0.60\\ 18.520 0.30\\ 18.560 0.03\\ 18.585 -0.05\\ 18.610 -0.04\\ 18.650 0.01\\
18.69 0.02\\ 18.73 0.03\\ 18.77 0.05\\ 18.81 0.06\\ 18.85 0.04\\ 18.89 0.05\\ 18.93 0.07\\ 18.97 0.05\\ 19.01 0.06\\ 19.05 0.04\\ 19.09 0.05\\ 19.13 0.04\\ 19.17 0.04\\
19.200 0.78\\ 19.225 1.20\\ 19.245 0.95\\ 19.280 0.60\\ 19.320 0.30\\ 19.360 0.03\\ 19.385 -0.05\\ 19.410 -0.04\\ 19.450 0.01\\
19.49 0.02\\ 19.53 0.05\\ 19.57 0.04\\ 19.61 0.06\\ 19.65 0.05\\ 19.69 0.03\\ 19.73 0.05\\ 19.77 0.06\\ 19.81 0.04\\ 19.85 0.07\\ 19.89 0.05\\ 19.93 0.06\\ 19.97 0.04\\
20.000 0.78\\ 20.025 1.15\\ 20.045 0.95\\ 20.080 0.60\\ 20.120 0.30\\ 20.160 0.03\\ 20.185 -0.05\\ 20.210 -0.04\\ 20.250 0.01\\
20.29 0.01\\ 20.33 0.03\\ 20.37 0.05\\ 20.41 0.04\\ 20.45 0.06\\ 20.49 0.04\\ 20.53 0.05\\ 20.57 0.07\\ 20.61 0.05\\ 20.65 0.04\\ 20.69 0.06\\ 20.73 0.05\\ 20.77 0.04\\
20.800 0.78\\ 20.825 1.18\\ 20.845 0.95\\ 20.880 0.60\\ 20.920 0.30\\ 20.960 0.03\\ 20.985 -0.05\\ 21.010 -0.04\\ 21.050 0.01\\
21.09 0.03\\ 21.13 0.04\\ 21.17 0.02\\ 21.21 0.05\\ 21.25 0.06\\ 21.29 0.05\\ 21.33 0.04\\ 21.37 0.06\\ 21.41 0.05\\ 21.45 0.07\\ 21.49 0.04\\ 21.53 0.05\\ 21.57 0.04\\
21.600 0.78\\ 21.625 1.15\\ 21.645 0.95\\ 21.680 0.60\\ 21.720 0.30\\ 21.760 0.03\\ 21.785 -0.05\\ 21.810 -0.04\\ 21.850 0.01\\
21.89 0.02\\ 21.93 0.04\\ 21.97 0.05\\ 22.01 0.03\\ 22.05 0.05\\ 22.09 0.06\\ 22.13 0.04\\ 22.17 0.07\\ 22.21 0.05\\ 22.25 0.05\\ 22.29 0.06\\ 22.33 0.04\\ 22.37 0.04\\
22.400 0.78\\ 22.425 1.15\\ 22.445 0.95\\ 22.480 0.60\\ 22.520 0.30\\ 22.560 0.03\\ 22.585 -0.05\\ 22.610 -0.04\\ 22.650 0.01\\
22.69 0.01\\ 22.73 0.03\\ 22.77 0.04\\ 22.81 0.06\\ 22.85 0.05\\ 22.89 0.04\\ 22.93 0.06\\ 22.97 0.05\\ 23.01 0.03\\ 23.05 0.06\\ 23.09 0.05\\ 23.13 0.07\\ 23.17 0.04\\
23.200 0.78\\ 23.225 1.18\\ 23.245 0.95\\ 23.280 0.60\\ 23.320 0.30\\ 23.360 0.03\\ 23.385 -0.05\\ 23.410 -0.04\\ 23.450 0.01\\
23.49 0.02\\ 23.53 0.05\\ 23.57 0.04\\ 23.61 0.03\\ 23.65 0.06\\ 23.69 0.05\\ 23.73 0.07\\ 23.77 0.04\\ 23.81 0.06\\ 23.85 0.05\\ 23.89 0.04\\ 23.93 0.06\\ 23.97 0.04\\
24.000 0.78\\
}\orangeC

\pgfplotsset{
  panel/.style={
    scale only axis, width=604.5pt,
    xmin=12, xmax=24, ymin=-0.5, ymax=1.5,
    xtick={12,14,16,18,20,22},
    xticklabels={0.012,0.014,0.016,0.018,0.02,0.022},
    ytick={-0.5,0,0.5,1,1.5},
    yticklabels={-0.5,0,0.5,1,1.5},
    tick align=inside,
    major tick length=5pt,
    axis line style={draw=axgray, line width=0.6pt},
    major tick style={draw=axgray, line width=0.6pt},
    tick label style={font=\fontsize{12.8}{15}\selectfont, text=axgray, inner sep=0pt},
    xticklabel style={yshift=-10pt},
    yticklabel style={xshift=-6pt},
    xlabel={Time (s)},
    xlabel style={font=\fontsize{14.2}{16}\selectfont, text=axgray, at={(axis description cs:0.5,0)}, anchor=north, inner sep=0pt, yshift=-24pt},
    every axis title shift=0pt,
    title style={font=\fontsize{14.5}{16}\selectfont\bfseries, text=black, at={(axis description cs:0.5,1)}, anchor=base, inner sep=0pt, yshift=7pt},
    fill between/on layer=main,
    legend style={at={(axis description cs:0.980,0.943)}, anchor=north east,
      draw=axgray, line width=0.6pt, fill=white,
      font=\fontsize{12.2}{14}\selectfont,
      inner xsep=3pt, inner ysep=1.5pt, row sep=0pt,
      nodes={inner sep=1pt, text height=10pt, text depth=3.5pt, text=black},
      /tikz/every even column/.append style={column sep=5pt}},
    legend cell align=left,
    legend image code/.code={\draw[#1] (0pt,4pt) -- (42pt,4pt);},
  }
}

\begin{document}
\begin{tikzpicture}

\begin{axis}[panel, at={(41.5pt,457.5pt)}, anchor=south west, height=141pt,
  title={Proposed Technique}]
\addplot[mblue, line width=0.9pt] table[x=x,y=y] {\bluedata};
\addplot[draw=none, name path=cu, forget plot] table[x=x,y=up] {\bluecore};
\addplot[draw=none, name path=cl, forget plot] table[x=x,y=lo] {\bluecore};
\addplot[fill=mblue, draw=none, forget plot] fill between[of=cu and cl];
\addplot[morange, line width=1pt] table[x=x,y=y] {\orangeA};
\legend{received synchro sequence, output signal}
\end{axis}

\begin{axis}[panel, at={(41.5pt,253pt)}, anchor=south west, height=140pt,
  title={PLL with Multiplier Phase Detector}]
\addplot[mblue, line width=0.9pt] table[x=x,y=y] {\bluedata};
\addplot[draw=none, name path=cu, forget plot] table[x=x,y=up] {\bluecore};
\addplot[draw=none, name path=cl, forget plot] table[x=x,y=lo] {\bluecore};
\addplot[fill=mblue, draw=none, forget plot] fill between[of=cu and cl];
\addplot[draw=none, name path=bu, forget plot] table[x=x,y=up] {\bandB};
\addplot[draw=none, name path=bl, forget plot] table[x=x,y=lo] {\bandB};
\addplot[fill=morange, draw=none, forget plot] fill between[of=bu and bl];
\addplot[morange, line width=1pt] table[x=x,y=y] {\orangeB};
\legend{received synchro sequence, output signal}
\end{axis}

\begin{axis}[panel, at={(41.5pt,47pt)}, anchor=south west, height=140.5pt,
  title={PLL with Optimum Time Varying Filtering}]
\addplot[mblue, line width=0.9pt] table[x=x,y=y] {\bluedata};
\addplot[draw=none, name path=cu, forget plot] table[x=x,y=up] {\bluecore};
\addplot[draw=none, name path=cl, forget plot] table[x=x,y=lo] {\bluecore};
\addplot[fill=mblue, draw=none, forget plot] fill between[of=cu and cl];
\addplot[morange, line width=0.9pt] table[x=x,y=y] {\orangeC};
\legend{received synchro sequence, output signal}
\end{axis}

\pgfresetboundingbox
\path[use as bounding box] (0pt,0pt) rectangle (667pt,620pt);
\end{tikzpicture}
\end{document}
